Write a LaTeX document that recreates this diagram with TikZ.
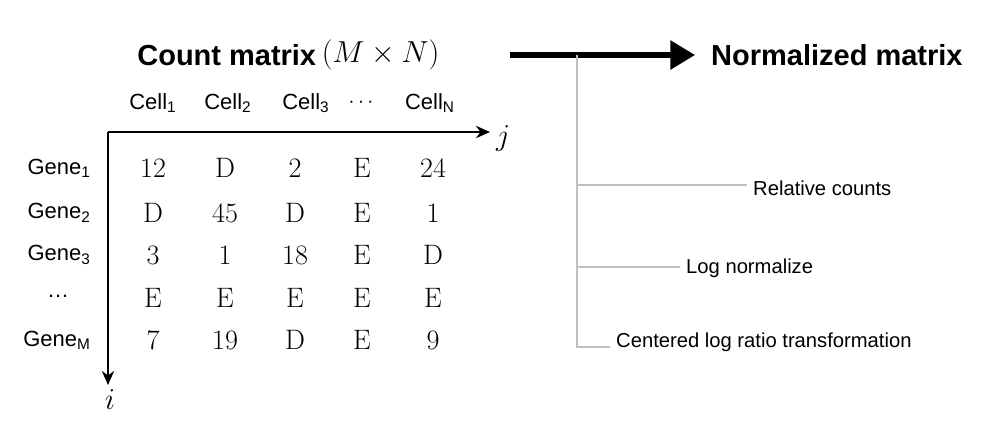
\documentclass[tikz,border=0pt]{standalone}
\usepackage{fontspec}
\setmainfont{Liberation Sans}
\newfontfamily\lmr{Latin Modern Roman}
\usetikzlibrary{arrows.meta}
\newcommand{\sub}[1]{\textsubscript{#1}}
\begin{document}
\begin{tikzpicture}[x=0.02cm,y=-0.02cm,
 hdr/.style={font=\fontsize{12.5}{14}\selectfont},
 big/.style={font=\fontsize{16.5}{20}\selectfont\bfseries},
 lab/.style={font=\fontsize{11.5}{13}\selectfont,anchor=west},
 num/.style={font=\lmr\fontsize{16}{18}\selectfont,anchor=base},
 gene/.style={font=\fontsize{12.5}{14}\selectfont,anchor=east},
 br/.style={draw=black!25,line width=0.8pt}]
\useasboundingbox (0,0) rectangle (1000,427);
\node[big,anchor=east,inner sep=2pt] (cm) at (320,55) {Count matrix};
\node[font=\fontsize{17}{20}\selectfont,anchor=west,inner sep=2pt] (mn) at (318,55) {$(M\times N)$};
\node[big,anchor=west] (nm) at (705,55) {Normalized matrix};
\coordinate (a0) at (510,55);
\coordinate (a1) at (695,55);
\draw[line width=3pt,-{Triangle[length=14pt,width=16pt]}] (a0) -- (a1);
\coordinate (t0) at (577,55);
\coordinate (t1) at (577,185);\coordinate (t2) at (577,267);\coordinate (t3) at (577,347);
\node[lab] (r1) at (747,188) {Relative counts};
\node[lab] (r2) at (680,268) {Log normalize};
\node[lab] (r3) at (610,342) {Centered log ratio transformation};
\draw[br] (t0) -- (t3) -- (610,347);
\draw[br] (t1) -- (747,185);
\draw[br] (t2) -- (680,267);
\foreach \x/\t [count=\k] in {153/Cell\sub{1},228/Cell\sub{2},306/Cell\sub{3},361/$\cdots$,430/Cell\sub{N}}
  \node[hdr] (c\k) at (\x,103) {\t};
\coordinate (o) at (108,132);
\node[font=\fontsize{17}{20}\selectfont] (j) at (503,138) {$j$};
\node[font=\fontsize{17}{20}\selectfont] (i) at (110,400) {$i$};
\draw[line width=1.2pt,-{Stealth[length=8pt,width=7pt]}] (o) -- (490,132);
\draw[line width=1.2pt,-{Stealth[length=8pt,width=7pt]}] (o) -- (108,385);
\foreach \y/\g [count=\r] in {168/Gene\sub{1},213/Gene\sub{2},255/Gene\sub{3},340/Gene\sub{M}}
  \node[gene] (g\r) at (97,\y) {\g};
\node[hdr] (gd) at (58,296) {\dots};
\foreach \y/\row [count=\r] in {168/{12,D,2,E,24},213/{D,45,D,E,1},255/{3,1,18,E,D},298/{E,E,E,E,E},340/{7,19,D,E,9}}
  \foreach \v [count=\c] in \row {
    \pgfmathsetmacro\xx{{153,225,295,362,433}[\c-1]}
    \ifx\v D\def\w{.}\else\ifx\v E\def\w{\ldots}\else\let\w\v\fi\fi
    \node[num] (v\r\c) at (\xx,\y+9) {\w};
  }
\end{tikzpicture}
\end{document}
